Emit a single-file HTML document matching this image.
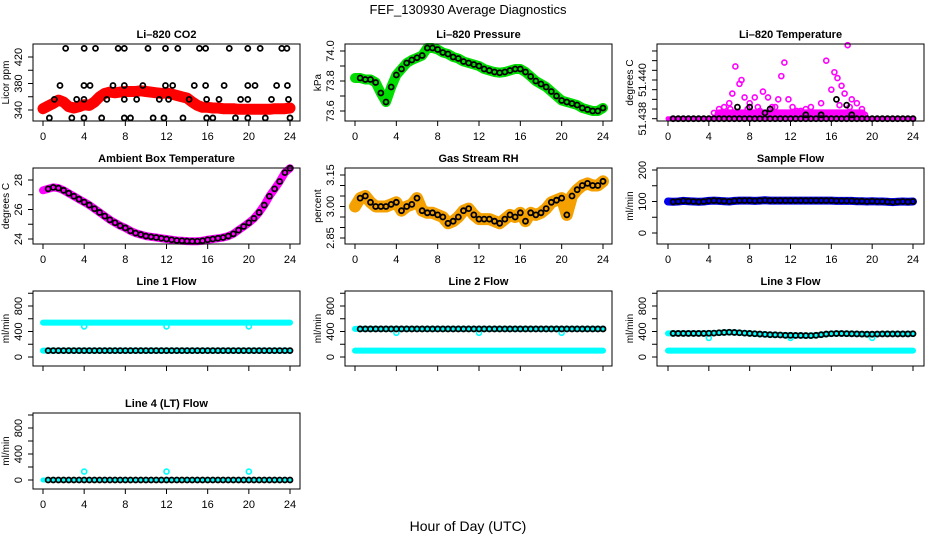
<!DOCTYPE html>
<html><head><meta charset="utf-8"><style>
body{margin:0;background:#fff;}
svg{display:block;font-family:"Liberation Sans",sans-serif;}
</style></head><body>
<svg id="chart" width="936" height="540" viewBox="0 0 936 540" xmlns="http://www.w3.org/2000/svg">
<rect width="936" height="540" fill="#fff"/>
<text x="468" y="14" font-size="13" text-anchor="middle">FEF_130930  Average Diagnostics</text>
<text x="468" y="531" font-size="14" text-anchor="middle">Hour of Day (UTC)</text>
</svg>
<script>
const hours = Array.from({length:49},(_, i)=>i*0.5);
const xTicks = [0,4,8,12,16,20,24];
const co2Band = [342,346,350,355,352,345,343,345,348,347,352,360,365,367,366,367,368,368,368,369,368,367,366,365,366,364,362,360,358,352,347,344,344,343,343,342,342,342,341,341,341,341,341,341,341,342,342,342,343];
const co2BlackX = [2.2,4.0,5.1,7.3,7.9,10.2,11.9,13.1,15.2,15.8,18.1,19.9,21.1,23.2,23.7, 1.65,3.98,4.57,6.8,7.9,9.7,11.9,12.6,14.7,15.8,17.6,19.9,20.6,22.7,23.75, 1.1,3.27,3.98,6.2,7.9,9.1,11.3,12.2,14.2,15.9,17.1,19.2,19.9,22.2,23.85, 0.62,2.8,3.98,5.7,7.9,8.5,10.7,11.75,13.6,15.9,16.5,18.7,19.9,21.6,24];
const co2BlackY = [433,433,433,433,433,433,433,433,433,433,433,433,433,433,433, 377,377,377,377,377,377,377,377,377,377,377,377,377,377,377, 356,356,356,356,356,356,356,356,356,356,356,356,356,356,356, 328,328,328,328,328,328,328,328,328,328,328,328,328,328,328];
const pressure = [73.82,73.82,73.81,73.81,73.79,73.72,73.66,73.76,73.84,73.88,73.92,73.94,73.955,73.97,74.02,74.02,74.01,73.99,73.98,73.96,73.95,73.93,73.92,73.91,73.90,73.88,73.87,73.86,73.855,73.86,73.87,73.88,73.88,73.86,73.83,73.80,73.78,73.76,73.73,73.70,73.67,73.66,73.65,73.64,73.62,73.61,73.60,73.60,73.62];
const tempMagX = [4.5,5,5.5,6,6.3,6.6,7,7.2,7.5,8,8.5,8.8,9.3,9.8,10.5,10.8,11.1,11.4,11.8,12.2,13,14,15,15.5,16,16.3,16.6,17,17.3,17.6,18,18.5,19,19.3,5.2,6.1,7.8,9,10.2,12.6,13.5,14.5,16.8,17.8];
const tempMagY = [51.4383,51.4385,51.4386,51.4388,51.4393,51.4407,51.4398,51.4400,51.4391,51.4388,51.4391,51.4386,51.4394,51.4391,51.4386,51.4390,51.4402,51.4409,51.4390,51.4386,51.4384,51.4386,51.4388,51.4410,51.4395,51.4404,51.4401,51.4397,51.4393,51.4418,51.4390,51.4388,51.4385,51.4382,51.4383,51.4385,51.4385,51.4384,51.4386,51.4384,51.4385,51.4383,51.4387,51.4386];
const tempBlackX = [6.8,8,9.5,10,13.5,15,16.5,17.5,18];
const tempBlackY = [51.4386,51.4386,51.4383,51.4385,51.4382,51.4382,51.4390,51.4387,51.4382];
const ambient = [27.3,27.4,27.5,27.45,27.3,27.1,26.9,26.7,26.5,26.3,26.05,25.8,25.55,25.3,25.1,24.9,24.75,24.55,24.4,24.3,24.2,24.15,24.1,24.05,24.0,23.95,23.9,23.88,23.86,23.85,23.85,23.88,23.95,24.0,24.05,24.1,24.2,24.35,24.6,24.85,25.1,25.4,25.8,26.3,26.9,27.4,27.9,28.5,28.8];
const gasRH = [3.00,3.04,3.05,3.02,3.00,3.00,3.00,3.01,3.02,2.98,3.00,3.01,3.04,2.98,2.97,2.97,2.96,2.95,2.92,2.93,2.95,2.98,2.99,2.96,2.94,2.94,2.94,2.93,2.92,2.94,2.96,2.95,2.97,2.93,2.97,2.96,2.97,2.99,3.02,3.03,3.04,2.96,3.05,3.08,3.10,3.11,3.10,3.10,3.12];
const sampleFlow = [100,99,100,102,101,100,99,100,102,103,102,101,100,102,103,103,103,102,103,104,103,103,103,103,103,103,103,103,103,103,103,103,103,102,102,102,102,101,101,100,101,100,100,99,98,99,100,99,100];
const line1Hi = 540, line1Lo = 100, line1Black = 100;
const line2Hi = 440, line2Lo = 100, line2Black = 440;
const line3Lo = 100;
const line3Black = [370,370,370,370,370,370,370,370,372,375,380,385,388,385,380,375,370,365,360,355,350,348,345,340,340,338,338,336,335,340,350,360,365,368,368,366,364,362,360,358,358,360,362,362,362,362,362,362,365];
const dipHours = [4,12,20];
const line1Dip = 480, line2Dip = 380, line3Dip = 300, line4Spike = 130;

const svg = document.getElementById('chart');
const NS = 'http://www.w3.org/2000/svg';
function mk(tag, attrs, parent){const e=document.createElementNS(NS,tag);for(const k in attrs)e.setAttribute(k,attrs[k]);(parent||svg).appendChild(e);return e;}

const cols = [{bx0:33,bx1:300,h0:43,h24:290},{bx0:345,bx1:612,h0:355,h24:603},{bx0:657,bx1:924,h0:668,h24:913}];
const rows = [{y0:44,y1:121},{y0:168,y1:244},{y0:291,y1:366},{y0:413,y1:489}];

function panel(name,title,col,row,vA,pA,vB,pB,ticks,labels,ylab,showX){
  const c=cols[col], r=rows[row];
  const g=mk('g',{});
  
  
  const xs=h=>c.h0+(c.h24-c.h0)*h/24;
  const ys=v=>pA+(pB-pA)*(v-vA)/(vB-vA);
  const t=mk('text',{x:(c.bx0+c.bx1)/2,y:r.y0-6,'font-size':11,'font-weight':'bold','text-anchor':'middle'},g);
  t.textContent=title;
  
  
  const plot=mk('g',{},g);
  
  
  const box=mk('rect',{x:c.bx0,y:r.y0,width:c.bx1-c.bx0,height:r.y1-r.y0,fill:'none',stroke:'#000','stroke-width':1},g);
  
  
  mk('line',{x1:xs(0),x2:xs(24),y1:r.y1,y2:r.y1,stroke:'#000'},g);
  xTicks.forEach(h=>{
    mk('line',{x1:xs(h),x2:xs(h),y1:r.y1,y2:r.y1+5,stroke:'#000'},g);
    if(showX){const tl=mk('text',{x:xs(h),y:r.y1+19,'font-size':11,'text-anchor':'middle'},g);tl.textContent=h;
      
      }
  });
  mk('line',{x1:c.bx0,x2:c.bx0,y1:ys(ticks[0]),y2:ys(ticks[ticks.length-1]),stroke:'#000'},g);
  ticks.forEach(v=>mk('line',{x1:c.bx0-5,x2:c.bx0,y1:ys(v),y2:ys(v),stroke:'#000'},g));
  labels.forEach(v=>{const y=ys(v);const tl=mk('text',{x:c.bx0-11,y:y,'font-size':11,'text-anchor':'middle',transform:`rotate(-90 ${c.bx0-11} ${y})`},g);tl.textContent=String(v);
    
    });
  const yl=mk('text',{x:c.bx0-24,y:(r.y0+r.y1)/2,'font-size':10,'text-anchor':'middle',transform:`rotate(-90 ${c.bx0-24} ${(r.y0+r.y1)/2})`},g);
  yl.textContent=ylab;
  
  
  return {xs,ys,g:plot};
}
function band(p,xArr,yArr,color,w,name){
  const pts=xArr.map((h,i)=>p.xs(h).toFixed(1)+','+p.ys(yArr[i]).toFixed(1)).join(' ');
  const l=mk('polyline',{points:pts,fill:'none',stroke:color,'stroke-width':w,'stroke-linejoin':'round','stroke-linecap':'round'},p.g);
  
  
}
function dots(p,xArr,yArr,color,r,sw,name){
  xArr.forEach((h,i)=>{const c=mk('circle',{cx:p.xs(h),cy:p.ys(yArr[i]),r:r,fill:'none',stroke:color,'stroke-width':sw},p.g);
    
    });
}
const blackH = hours.filter(h=>h>=0.5);
const constArr=(v,n)=>Array(n).fill(v);
const BR=2.5, BW=1.8;

let p=panel('co2','Li\u2013820 CO2',0,0,340,110,420,57,[340,360,380,400,420],[340,380,420],'Licor ppm',true);
band(p,hours,co2Band,'#ff0000',11,'co2-band');
dots(p,co2BlackX,co2BlackY,'#000',BR,BW,'co2-point');
p=panel('pressure','Li\u2013820 Pressure',1,0,73.6,111,74.0,51,[73.6,73.7,73.8,73.9,74.0],['73.6','73.8','74.0'],'kPa',true);
band(p,hours,pressure,'#00dd00',10,'pressure-band');
dots(p,blackH,pressure.slice(1),'#000',BR,BW,'pressure-point');
p=panel('li820-temp','Li\u2013820 Temperature',2,0,51.438,118.7,51.440,80,[51.438,51.4385,51.439,51.4395,51.440,51.4405,51.441,51.4415],['51.438','51.440'],'degrees C',true);
band(p,[0,24],[51.438,51.438],'#ff00ff',5,'temp-baseline-band');
band(p,[5,19],[51.43825,51.43825],'#ff00ff',9,'temp-cluster-band');
dots(p,tempMagX,tempMagY,'#ff00ff',2.5,1.6,'temp-magenta-point');
dots(p,blackH,constArr(51.438,48),'#000',BR,BW,'temp-point');
dots(p,tempBlackX,tempBlackY,'#000',BR,BW,'temp-point');
p=panel('ambient','Ambient Box Temperature',0,1,24,239,28,180,[24,25,26,27,28],[24,26,28],'degrees C',true);
band(p,hours,ambient,'#ff00ff',8,'ambient-band');
dots(p,blackH,ambient.slice(1),'#000',BR,BW,'ambient-point');
p=panel('gas-rh','Gas Stream RH',1,1,2.85,238,3.15,175,[2.85,2.90,2.95,3.00,3.05,3.10,3.15],['2.85','3.00','3.15'],'percent',true);
band(p,hours,gasRH,'#f4a000',12,'rh-band');
dots(p,blackH,gasRH.slice(1),'#000',BR,BW,'rh-point');
p=panel('sample-flow','Sample Flow',2,1,0,233,200,170,[0,50,100,150,200],[0,100,200],'ml/min',true);
band(p,hours,sampleFlow,'#0000ee',8,'sample-flow-band');
dots(p,blackH,sampleFlow.slice(1),'#000',BR,BW,'sample-flow-point');
const flowTicks=[0,200,400,600,800,1000], flowLabels=[0,400,800];
p=panel('line1','Line 1 Flow',0,2,0,357,800,306,flowTicks,flowLabels,'ml/min',false);
band(p,[0,24],[line1Hi,line1Hi],'#00ffff',6,'line1-cyan-high');
band(p,[0,24],[line1Lo,line1Lo],'#00ffff',6,'line1-cyan-low');
dots(p,dipHours,constArr(line1Dip,3),'#00ffff',2.5,1.6,'line1-dip');
dots(p,blackH,constArr(line1Black,48),'#000',BR,BW,'line1-point');
p=panel('line2','Line 2 Flow',1,2,0,357,800,306,flowTicks,flowLabels,'ml/min',false);
band(p,[0,24],[line2Hi,line2Hi],'#00ffff',6,'line2-cyan-high');
band(p,[0,24],[line2Lo,line2Lo],'#00ffff',6,'line2-cyan-low');
dots(p,dipHours,constArr(line2Dip,3),'#00ffff',2.5,1.6,'line2-dip');
dots(p,blackH,constArr(line2Black,48),'#000',BR,BW,'line2-point');
p=panel('line3','Line 3 Flow',2,2,0,357,800,306,flowTicks,flowLabels,'ml/min',false);
band(p,hours,line3Black,'#00ffff',6,'line3-cyan-high');
band(p,[0,24],[line3Lo,line3Lo],'#00ffff',6,'line3-cyan-low');
dots(p,dipHours,constArr(line3Dip,3),'#00ffff',2.5,1.6,'line3-dip');
dots(p,blackH,line3Black.slice(1),'#000',BR,BW,'line3-point');
p=panel('line4','Line 4 (LT) Flow',0,3,0,480,800,428,flowTicks,flowLabels,'ml/min',true);
band(p,[0,24],[0,0],'#00ffff',5,'line4-cyan');
dots(p,dipHours,constArr(line4Spike,3),'#00ffff',2.5,1.6,'line4-spike');
dots(p,blackH,constArr(0,48),'#000',BR,BW,'line4-point');
</script>
</body></html>
